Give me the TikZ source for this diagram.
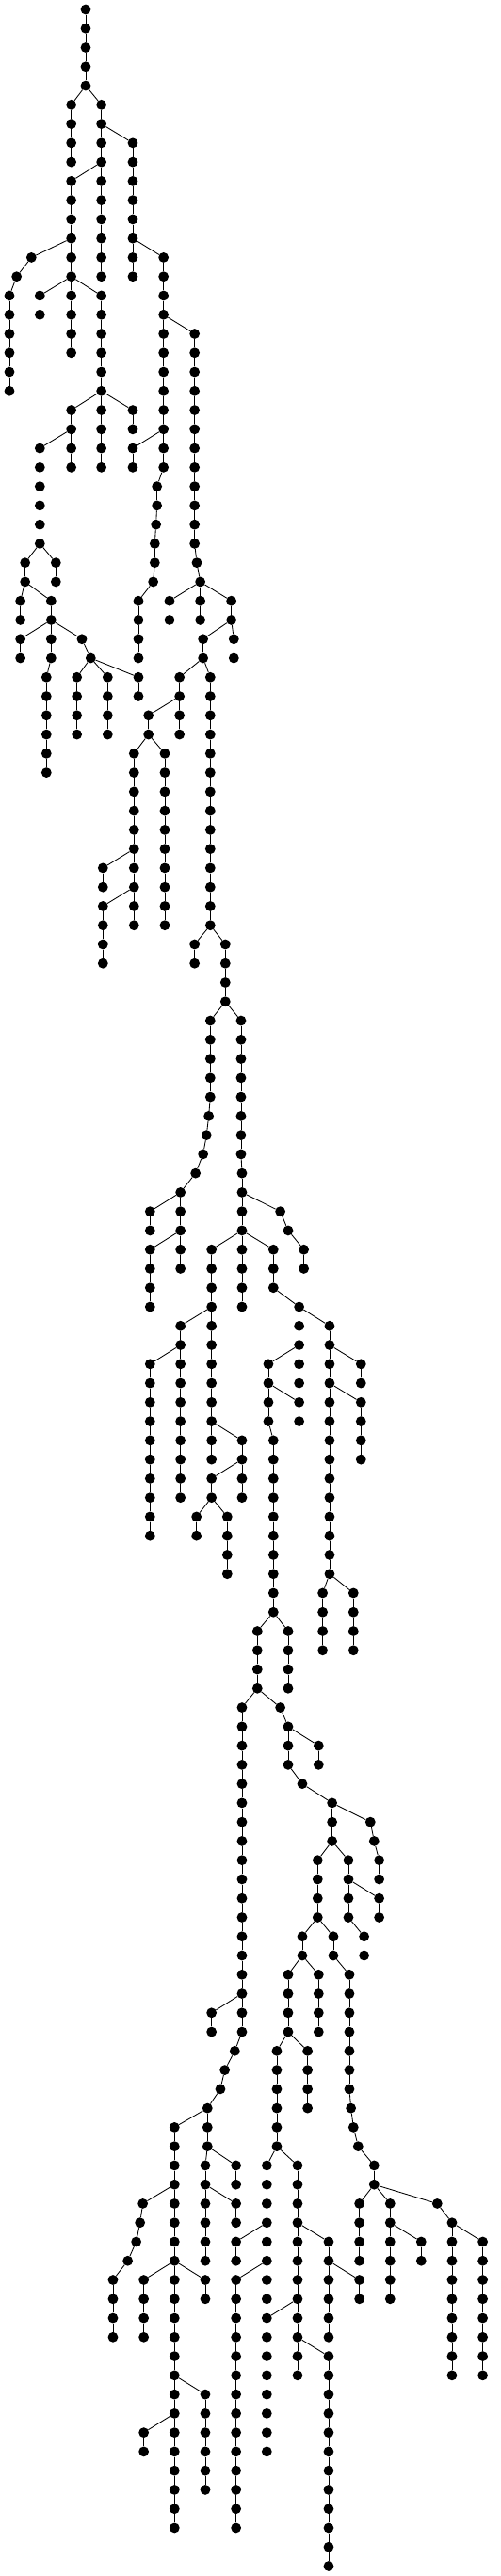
\documentclass[tikz,border=0pt]{standalone}
\begin{document}
\begin{tikzpicture}[x=0.333333pt, y=-20.266pt,
  dot/.style={circle, fill=black, draw=none, inner sep=0pt, minimum size=10.8pt},
  edge/.style={draw=black, line width=0.85pt}]
\useasboundingbox (0,-0.4934) rectangle (1596,134.52);
\node[dot] (n0x273) at (273,0) {};
\foreach \k/\c/\p in {
1/273/273, 2/273/273, 3/273/273, 4/273/273,
5/227/273, 5/323/273,
6/227/227, 6/323/323,
7/227/227, 7/323/323, 7/423/323,
8/227/227, 8/323/323, 8/423/423,
9/227/323, 9/323/323, 9/423/423,
10/227/227, 10/323/323, 10/423/423,
11/227/227, 11/323/323, 11/423/423,
12/227/227, 12/323/323, 12/423/423,
13/100/227, 13/227/227, 13/323/323, 13/423/423, 13/521/423,
14/53/100, 14/227/227, 14/323/323, 14/423/423, 14/521/521,
15/30/53, 15/127/227, 15/227/227, 15/323/227, 15/521/521,
16/30/30, 16/127/127, 16/227/227, 16/323/323, 16/521/521,
17/30/30, 17/227/227, 17/323/323, 17/521/521, 17/620/521,
18/30/30, 18/227/227, 18/323/323, 18/521/521, 18/620/620,
19/30/30, 19/323/323, 19/521/521, 19/620/620,
20/30/30, 20/323/323, 20/521/521, 20/620/620,
21/227/323, 21/323/323, 21/423/323, 21/521/521, 21/620/620,
22/227/227, 22/323/323, 22/423/423, 22/521/521, 22/620/620,
23/127/227, 23/227/227, 23/323/323, 23/423/521, 23/521/521, 23/620/620,
24/127/127, 24/227/227, 24/323/323, 24/423/423, 24/521/521, 24/620/620,
25/127/127, 25/500/521, 25/620/620,
26/127/127, 26/500/500, 26/620/620,
27/127/127, 27/497/500, 27/620/620,
28/127/127, 28/493/497, 28/620/620,
29/80/127, 29/178/127, 29/493/493, 29/627/620,
30/80/80, 30/178/178, 30/488/493, 30/638/627,
31/65/80, 31/163/80, 31/441/488, 31/540/638, 31/638/638, 31/737/638,
32/65/65, 32/163/163, 32/441/441, 32/540/540, 32/638/638, 32/737/737,
33/65/163, 33/163/163, 33/261/163, 33/441/441, 33/647/737, 33/745/737,
34/65/65, 34/163/163, 34/289/261, 34/441/441, 34/647/647, 34/745/745,
35/148/163, 35/245/289, 35/343/289, 35/441/289, 35/572/647, 35/670/647,
36/148/148, 36/245/245, 36/343/343, 36/441/441, 36/572/572, 36/670/670,
37/148/148, 37/245/245, 37/343/343, 37/473/572, 37/572/572, 37/670/670,
38/148/148, 38/245/245, 38/343/343, 38/473/473, 38/572/572, 38/670/670,
39/148/148, 39/427/473, 39/525/473, 39/670/670,
40/148/148, 40/427/427, 40/525/525, 40/670/670,
41/427/427, 41/525/525, 41/670/670,
42/427/427, 42/525/525, 42/670/670,
43/427/427, 43/525/525, 43/670/670,
44/427/427, 44/525/525, 44/670/670,
45/328/427, 45/427/427, 45/525/525, 45/670/670,
46/328/328, 46/427/427, 46/525/525, 46/670/670,
47/328/427, 47/427/427, 47/525/525, 47/670/670,
48/328/328, 48/427/427, 48/525/525, 48/670/670,
49/328/328, 49/620/670, 49/718/670,
50/328/328, 50/620/620, 50/718/718,
51/718/718, 52/718/718,
53/670/718, 53/768/718,
54/670/670, 54/768/768,
55/670/670, 55/768/768,
56/670/670, 56/768/768,
57/670/670, 57/768/768,
58/665/670, 58/768/768,
59/658/665, 59/768/768,
60/647/658, 60/768/768,
61/623/647, 61/771/768,
62/575/623, 62/771/771,
63/478/575, 63/575/575, 63/771/771, 63/893/771,
64/478/478, 64/575/575, 64/771/771, 64/918/893,
65/478/575, 65/575/575, 65/674/771, 65/771/771, 65/871/771, 65/968/918,
66/478/478, 66/575/575, 66/674/674, 66/771/771, 66/871/871, 66/968/968,
67/478/478, 67/674/674, 67/771/771, 67/871/871,
68/478/478, 68/674/674, 68/771/771, 68/953/871,
69/575/674, 69/674/674, 69/953/953, 69/1050/953,
70/575/575, 70/674/674, 70/953/953, 70/1050/1050,
71/478/575, 71/575/575, 71/674/674, 71/855/953, 71/953/953, 71/1050/1050, 71/1150/1050,
72/478/478, 72/575/575, 72/674/674, 72/855/855, 72/953/953, 72/1050/1050, 72/1150/1150,
73/478/478, 73/575/575, 73/674/674, 73/855/855, 73/953/855, 73/1050/1050, 73/1150/1050,
74/478/478, 74/575/575, 74/674/674, 74/855/855, 74/953/953, 74/1050/1050, 74/1150/1150,
75/478/478, 75/575/575, 75/674/674, 75/771/674, 75/871/855, 75/1050/1050, 75/1150/1150,
76/478/478, 76/575/575, 76/674/674, 76/771/771, 76/871/871, 76/1050/1050, 76/1150/1150,
77/478/478, 77/575/575, 77/674/771, 77/771/771, 77/871/871, 77/1050/1050,
78/478/478, 78/575/575, 78/674/674, 78/771/771, 78/871/871, 78/1050/1050,
79/478/478, 79/626/674, 79/724/674, 79/871/871, 79/1050/1050,
80/478/478, 80/626/626, 80/724/724, 80/871/871, 80/1050/1050,
81/724/724, 81/871/871, 81/1050/1050,
82/724/724, 82/871/871, 82/1050/1050,
83/871/871, 83/1028/1050, 83/1126/1050,
84/871/871, 84/1028/1028, 84/1126/1126,
85/820/871, 85/918/871, 85/1028/1028, 85/1126/1126,
86/820/820, 86/918/918, 86/1028/1028, 86/1126/1126,
87/820/820, 87/918/918,
88/820/820, 88/918/918,
89/771/820, 89/893/820,
90/771/771, 90/918/893,
91/771/771, 91/918/918, 91/1015/918,
92/771/771, 92/918/918, 92/1015/1015,
93/771/771, 93/963/918,
94/771/771, 94/1058/963,
95/771/771, 95/1058/1058, 95/1180/1058,
96/771/771, 96/1058/1058, 96/1192/1180,
97/771/771, 97/1012/1058, 97/1110/1058, 97/1208/1192,
98/771/771, 98/1012/1012, 98/1110/1110, 98/1208/1208,
99/771/771, 99/1012/1012, 99/1110/1110, 99/1208/1110,
100/771/771, 100/1012/1012, 100/1110/1110, 100/1208/1208,
101/771/771, 101/963/1012, 101/1062/1012, 101/1160/1110,
102/771/771, 102/963/963, 102/1062/1062, 102/1160/1160,
103/771/771, 103/918/963, 103/1015/963, 103/1113/1062,
104/771/771, 104/918/918, 104/1015/1015, 104/1113/1113,
105/674/771, 105/771/771, 105/918/918, 105/1015/1015, 105/1113/1113,
106/674/674, 106/771/771, 106/918/918, 106/1015/1015, 106/1113/1113,
107/748/771, 107/882/918, 107/980/918, 107/1113/1113,
108/716/748, 108/882/882, 108/980/980, 108/1113/1113,
109/702/716, 109/882/882, 109/980/980, 109/1113/1113,
110/661/702, 110/882/882, 110/980/980, 110/1118/1113,
111/556/661, 111/661/661, 111/882/882, 111/1126/1118,
112/556/556, 112/661/661, 112/882/882, 112/1141/1126,
113/556/556, 113/654/661, 113/752/661, 113/850/882, 113/948/882, 113/1192/1141,
114/556/556, 114/654/654, 114/752/752, 114/850/850, 114/948/948, 114/1192/1192,
115/455/556, 115/556/556, 115/654/654, 115/752/654, 115/850/850, 115/948/948, 115/1145/1192, 115/1243/1192, 115/1393/1192,
116/446/455, 116/556/556, 116/654/654, 116/752/752, 116/850/850, 116/948/948, 116/1145/1145, 116/1243/1243, 116/1440/1393,
117/434/446, 117/556/556, 117/654/654, 117/752/850, 117/850/850, 117/948/948, 117/1047/948, 117/1145/1145, 117/1243/1243, 117/1342/1243, 117/1440/1440, 117/1538/1440,
118/407/434, 118/556/556, 118/654/654, 118/752/752, 118/850/850, 118/948/948, 118/1047/1047, 118/1145/1145, 118/1243/1243, 118/1342/1342, 118/1440/1440, 118/1538/1538,
119/360/407, 119/458/556, 119/556/556, 119/654/556, 119/752/850, 119/850/850, 119/948/948, 119/1047/1047, 119/1145/1047, 119/1243/1243, 119/1440/1440, 119/1538/1538,
120/360/360, 120/458/458, 120/556/556, 120/654/654, 120/752/752, 120/850/850, 120/948/948, 120/1047/1047, 120/1145/1145, 120/1243/1243, 120/1440/1440, 120/1538/1538,
121/360/360, 121/458/458, 121/556/556, 121/752/752, 121/850/948, 121/948/948, 121/1047/1047, 121/1440/1440, 121/1538/1538,
122/360/360, 122/458/458, 122/556/556, 122/752/752, 122/850/850, 122/948/948, 122/1047/1047, 122/1440/1440, 122/1538/1538,
123/556/556, 123/752/752, 123/850/850, 123/948/948, 123/1047/948, 123/1440/1440, 123/1538/1538,
124/556/556, 124/752/752, 124/850/850, 124/948/948, 124/1047/1047, 124/1440/1440, 124/1538/1538,
125/556/556, 125/654/556, 125/752/752, 125/850/850, 125/1047/1047,
126/556/556, 126/654/654, 126/752/752, 126/850/850, 126/1047/1047,
127/458/556, 127/556/556, 127/654/654, 127/752/752, 127/850/850, 127/1047/1047,
128/458/458, 128/556/556, 128/654/654, 128/752/752, 128/850/850, 128/1047/1047,
129/556/556, 129/654/654, 129/752/752, 129/1047/1047,
130/556/556, 130/654/654, 130/752/752, 130/1047/1047,
131/556/556, 131/752/752, 131/1047/1047,
132/556/556, 132/752/752, 132/1047/1047,
133/1047/1047, 134/1047/1047}
{
  \pgfmathtruncatemacro{\km}{\k-1}
  \node[dot] (n\k x\c) at (\c,\k) {};
  \draw[edge] (n\km x\p) -- (n\k x\c);
}
\end{tikzpicture}
\end{document}
